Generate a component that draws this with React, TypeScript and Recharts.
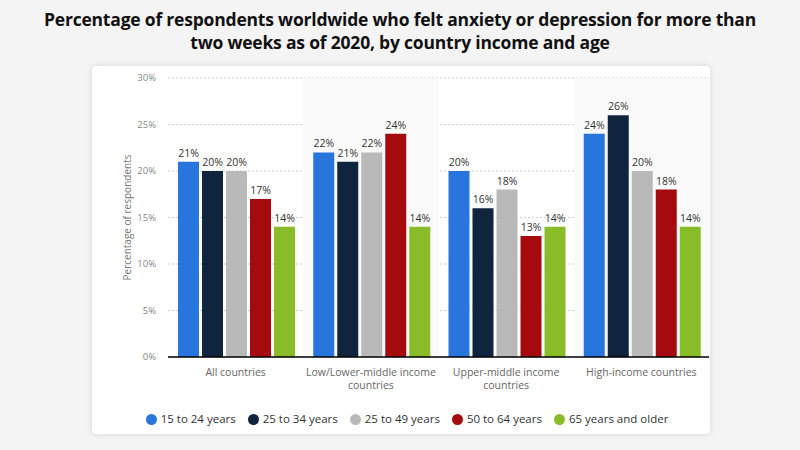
import {
  Bar,
  BarChart,
  CartesianGrid,
  LabelList,
  Legend,
  ReferenceArea,
  XAxis,
  YAxis
} from 'recharts';

const categories = [
  'All countries',
  'Low/Lower-middle income countries',
  'Upper-middle income countries',
  'High-income countries',
];
const age15to24 = [21, 22, 20, 24];
const age25to34 = [20, 21, 16, 26];
const age25to49 = [20, 22, 18, 20];
const age50to64 = [17, 24, 13, 18];
const age65plus = [14, 14, 14, 14];
const yTicks = [0, 5, 10, 15, 20, 25, 30];

const seriesList = [
  { key: 'a', name: '15 to 24 years', values: age15to24, color: '#2876dd' },
  { key: 'b', name: '25 to 34 years', values: age25to34, color: '#10253d' },
  { key: 'c', name: '25 to 49 years', values: age25to49, color: '#b9b9b9' },
  { key: 'd', name: '50 to 64 years', values: age50to64, color: '#a50b0e' },
  { key: 'e', name: '65 years and older', values: age65plus, color: '#88bc28' },
];

const data = categories.map((name, i) => {
  const row: Record<string, string | number> = { name };
  seriesList.forEach((s) => (row[s.key] = s.values[i]));
  return row;
});

const font = '"Open Sans", sans-serif';

function wrapWords(text: string, max: number) {
  const lines: string[] = [];
  let cur = '';
  text.split(' ').forEach((w) => {
    if (cur && (cur + ' ' + w).length > max) {
      lines.push(cur);
      cur = w;
    } else {
      cur = cur ? cur + ' ' + w : w;
    }
  });
  if (cur) lines.push(cur);
  return lines;
}

function CategoryTick({ x, y, payload }: any) {
  const lines = wrapWords(payload.value, 23);
  return (
    <text x={x} y={y + 11} textAnchor="middle" fill="#666" fontSize={10.5} fontFamily={font}>
      {lines.map((l, i) => (
        <tspan key={i} x={x} dy={i === 0 ? 0 : 12.5}>
          {l}
        </tspan>
      ))}
    </text>
  );
}

export default function App() {
  return (
    <div
      style={{
        position: 'absolute',
        left: 0,
        top: 0,
        width: 800,
        height: 450,
        background: '#f4f4f4',
        fontFamily: font,
      }}
    >
      <div
        style={{
          position: 'absolute',
          top: 8,
          left: 0,
          width: 800,
          textAlign: 'center',
          fontFamily: '"Open Sans", sans-serif',
          fontWeight: 700,
          fontSize: 17.5,
          lineHeight: '23px',
          color: '#111',
          letterSpacing: -0.2,
        }}
      >
        Percentage of respondents worldwide who felt anxiety or depression for more than
        <br />
        two weeks as of 2020, by country income and age
      </div>
      <div
        style={{
          position: 'absolute',
          left: 92,
          top: 66,
          width: 618,
          height: 368,
          background: '#fff',
          borderRadius: 4,
          boxShadow: '0 0 6px rgba(0,0,0,0.12)',
        }}
      >
        <BarChart
          width={618}
          height={368}
          data={data}
          barCategoryGap={10}
          barGap={3}
          margin={{ top: 12, right: 1, left: 0, bottom: 37 }}
        >
          {categories
            .filter((_, i) => i % 2 === 1)
            .map((c) => (
              <ReferenceArea key={c} x1={c} x2={c} fill="#fafafa" fillOpacity={1} stroke="none" />
            ))}
          <CartesianGrid vertical={false} stroke="#cfcfcf" strokeDasharray="2 2" />
          <XAxis
            dataKey="name"
            interval={0}
            height={40}
            tickLine={false}
            axisLine={{ stroke: '#000', strokeWidth: 1.5 }}
            tick={<CategoryTick />}
          />
          <YAxis
            width={76}
            domain={[0, 30]}
            ticks={yTicks}
            tickFormatter={(v) => `${v}%`}
            axisLine={false}
            tickLine={false}
            tickMargin={6}
            tick={{ fontSize: 9.5, fill: '#888', fontFamily: font }}
            label={{
              value: 'Percentage of respondents',
              angle: -90,
              position: 'insideLeft',
              offset: 35,
              style: { textAnchor: 'middle', fontSize: 10, fill: '#777', fontFamily: font },
            }}
          />
          <Legend
            verticalAlign="middle"
            iconType="circle"
            iconSize={11}
            wrapperStyle={{
              top: 345,
              left: 12,
              width: 618,
              fontSize: 11.5,
              fontFamily: font,
            }}
            formatter={(v) => <span style={{ color: '#333', marginRight: 2 }}>{v}</span>}
          />
          {seriesList.map((s) => (
            <Bar key={s.key} dataKey={s.key} name={s.name} fill={s.color} isAnimationActive={false}>
              <LabelList
                dataKey={s.key}
                position="top"
                offset={5}
                formatter={(v: any) => `${v}%`}
                style={{ fontSize: 10.5, fill: '#333', fontFamily: font }}
              />
            </Bar>
          ))}
        </BarChart>
      </div>
    </div>
  );
}
